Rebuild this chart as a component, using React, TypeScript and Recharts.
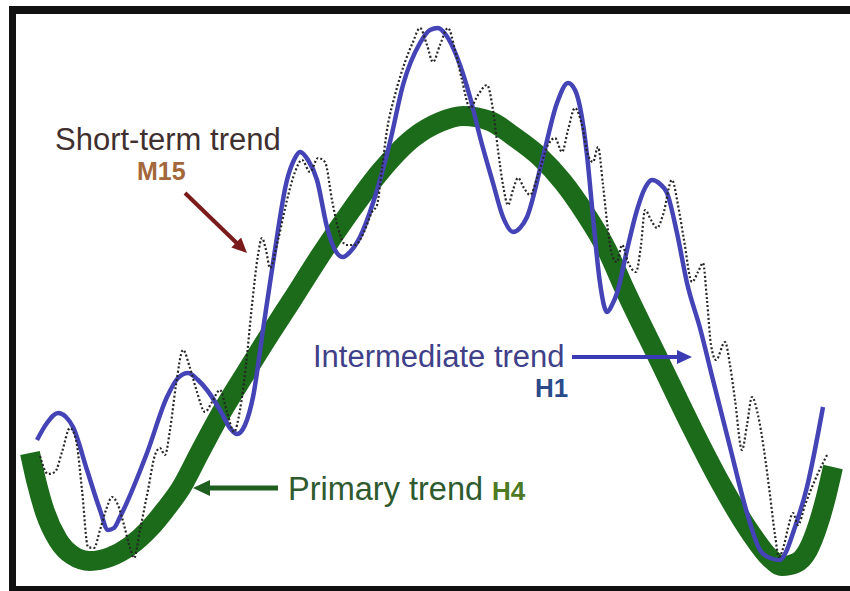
import { LineChart, Line, XAxis, YAxis } from 'recharts';

// values are read in picture units: x across, y down from the top edge
const primaryTrend: [number, number][] = [
  [30, 453], [36, 480], [45, 512], [58, 540], [72, 555], [90, 561], [110, 557],
  [130, 546], [150, 528], [165, 510], [181, 488], [200, 452], [220, 415],
  [245, 374], [270, 334], [292, 300], [320, 256], [350, 212], [380, 172],
  [413, 138], [440, 122], [463, 116], [490, 121], [513, 136], [540, 157],
  [563, 182], [585, 213], [607, 250], [625, 290], [660, 362], [692, 428],
  [720, 482], [750, 532], [770, 558], [782, 566], [796, 563], [808, 550],
  [818, 525], [826, 497], [833, 467],
];

const intermediateTrend: [number, number][] = [
  [37, 440], [47, 423], [58, 413], [66, 417], [73, 427], [87, 470], [100, 510],
  [108, 530], [114, 528], [120, 517], [147, 453], [167, 397], [178, 378],
  [188, 373], [198, 380], [207, 390], [220, 410], [230, 428], [237, 434],
  [245, 425], [253, 397], [263, 330], [273, 263], [287, 180], [294, 160],
  [300, 152], [308, 160], [317, 180], [327, 227], [335, 250], [343, 257],
  [350, 252], [360, 237], [373, 203], [390, 142], [403, 85], [420, 43],
  [430, 30], [438, 28], [446, 35], [457, 57], [470, 97], [480, 137], [493, 183],
  [503, 217], [513, 232], [520, 228], [527, 217], [543, 157], [557, 103],
  [568, 83], [575, 90], [580, 107], [587, 155], [593, 217], [600, 283],
  [607, 312], [612, 305], [617, 293], [627, 250], [637, 210], [645, 188],
  [652, 180], [660, 184], [667, 193], [677, 233], [687, 283], [700, 328],
  [713, 380], [730, 447], [747, 513], [760, 550], [770, 558], [780, 560],
  [786, 552], [793, 533], [807, 487], [823, 407],
];

const shortTermTrend: [number, number][] = [
  [40, 456], [48, 474], [55, 472], [62, 452], [70, 428], [76, 440], [82, 490],
  [88, 547], [94, 548], [100, 530], [106, 510], [112, 497], [118, 505],
  [124, 525], [130, 548], [134, 558], [140, 530], [148, 490], [155, 455],
  [160, 448], [165, 455], [170, 430], [176, 385], [183, 350], [190, 368],
  [197, 392], [205, 412], [212, 402], [220, 390], [227, 412], [234, 432],
  [240, 410], [246, 365], [252, 305], [258, 255], [262, 238], [266, 250],
  [270, 268], [278, 240], [287, 200], [295, 172], [302, 160], [310, 172],
  [318, 158], [325, 162], [332, 200], [338, 228], [346, 245], [355, 245],
  [364, 232], [372, 212], [377, 205], [382, 168], [387, 130], [395, 95],
  [405, 62], [413, 42], [420, 28], [427, 45], [433, 62], [440, 45], [448, 28],
  [455, 50], [462, 80], [470, 108], [478, 95], [487, 85], [493, 110],
  [498, 150], [503, 185], [508, 205], [513, 190], [518, 178], [524, 188],
  [530, 195], [538, 175], [548, 145], [555, 138], [562, 152], [568, 130],
  [575, 108], [582, 125], [588, 155], [593, 162], [598, 147], [603, 185],
  [608, 230], [612, 255], [617, 262], [622, 245], [628, 262], [636, 272],
  [641, 245], [645, 210], [651, 220], [657, 228], [663, 215], [672, 180],
  [678, 205], [684, 240], [692, 282], [698, 272], [703, 263], [707, 300],
  [711, 345], [716, 360], [725, 342], [730, 365], [735, 400], [742, 450],
  [747, 425], [752, 397], [758, 415], [764, 450], [770, 495], [775, 535],
  [779, 557], [784, 545], [788, 528], [793, 513], [798, 525], [805, 505],
  [815, 480], [828, 453],
];

const W = 850;
const H = 591;

const toRows = (pts: [number, number][]) => pts.map(([x, y]) => ({ x, y }));

const FONT = '"Liberation Sans", Arial, sans-serif';

const Arrow = ({ x1, y1, x2, y2, color, width, head, spread }: any) => {
  const a = Math.atan2(y2 - y1, x2 - x1);
  const bx = x2 - head * Math.cos(a);
  const by = y2 - head * Math.sin(a);
  const p1 = [bx + spread * Math.sin(a), by - spread * Math.cos(a)];
  const p2 = [bx - spread * Math.sin(a), by + spread * Math.cos(a)];
  return (
    <g>
      <line x1={x1} y1={y1} x2={bx + Math.cos(a)} y2={by + Math.sin(a)} stroke={color} strokeWidth={width} />
      <polygon points={`${x2},${y2} ${p1[0]},${p1[1]} ${p2[0]},${p2[1]}`} fill={color} />
    </g>
  );
};

export default function App() {
  return (
    <div style={{ position: 'absolute', left: 0, top: 0, width: W, height: H, background: '#fff' }}>
      <LineChart width={W} height={H} margin={{ top: 0, right: 0, bottom: 0, left: 0 }}>
        <XAxis dataKey="x" type="number" domain={[0, W]} hide allowDataOverflow />
        <YAxis type="number" domain={[0, H]} reversed hide allowDataOverflow />
        <Line
          data={toRows(primaryTrend)}
          dataKey="y"
          type="monotone"
          stroke="#1b6b1b"
          strokeWidth={20}
          dot={false}
          activeDot={false}
          isAnimationActive={false}
        />
        <Line
          data={toRows(intermediateTrend)}
          dataKey="y"
          type="monotone"
          stroke="#4444b6"
          strokeWidth={4.5}
          dot={false}
          activeDot={false}
          isAnimationActive={false}
        />
        <Line
          data={toRows(shortTermTrend)}
          dataKey="y"
          type="monotone"
          stroke="#262626"
          strokeWidth={2.2}
          strokeDasharray="2 2.2"
          dot={false}
          activeDot={false}
          isAnimationActive={false}
        />
      </LineChart>
      <svg width={W} height={H} style={{ position: 'absolute', left: 0, top: 0, pointerEvents: 'none' }}>
        <rect x={9} y={6} width={841} height={8} fill="#111" />
        <rect x={9} y={6} width={7} height={585} fill="#111" />
        <rect x={9} y={586} width={841} height={5} fill="#111" />

        <text x={55} y={150} fontFamily={FONT} fontSize={31} fill="#3f2f2f">Short-term trend</text>
        <text x={137} y={180} fontFamily={FONT} fontSize={25} fontWeight="bold" fill="#a3683a">M15</text>
        <Arrow x1={185} y1={193} x2={247} y2={253} color="#7b1c1c" width={4} head={15} spread={7} />

        <text x={313} y={367} fontFamily={FONT} fontSize={31} fill="#3f3f8a">Intermediate trend</text>
        <text x={535} y={397} fontFamily={FONT} fontSize={26} fontWeight="bold" fill="#2b4a8a">H1</text>
        <Arrow x1={572} y1={357} x2={692} y2={357} color="#3a3ab5" width={4} head={15} spread={7} />

        <text x={288} y={500} fontFamily={FONT} fontSize={32.5} fill="#2e5a2e">Primary trend</text>
        <text x={492} y={500} fontFamily={FONT} fontSize={26} fontWeight="bold" fill="#4d7a22">H4</text>
        <Arrow x1={278} y1={488} x2={193} y2={488} color="#1e5e1e" width={5} head={17} spread={8} />
      </svg>
    </div>
  );
}
